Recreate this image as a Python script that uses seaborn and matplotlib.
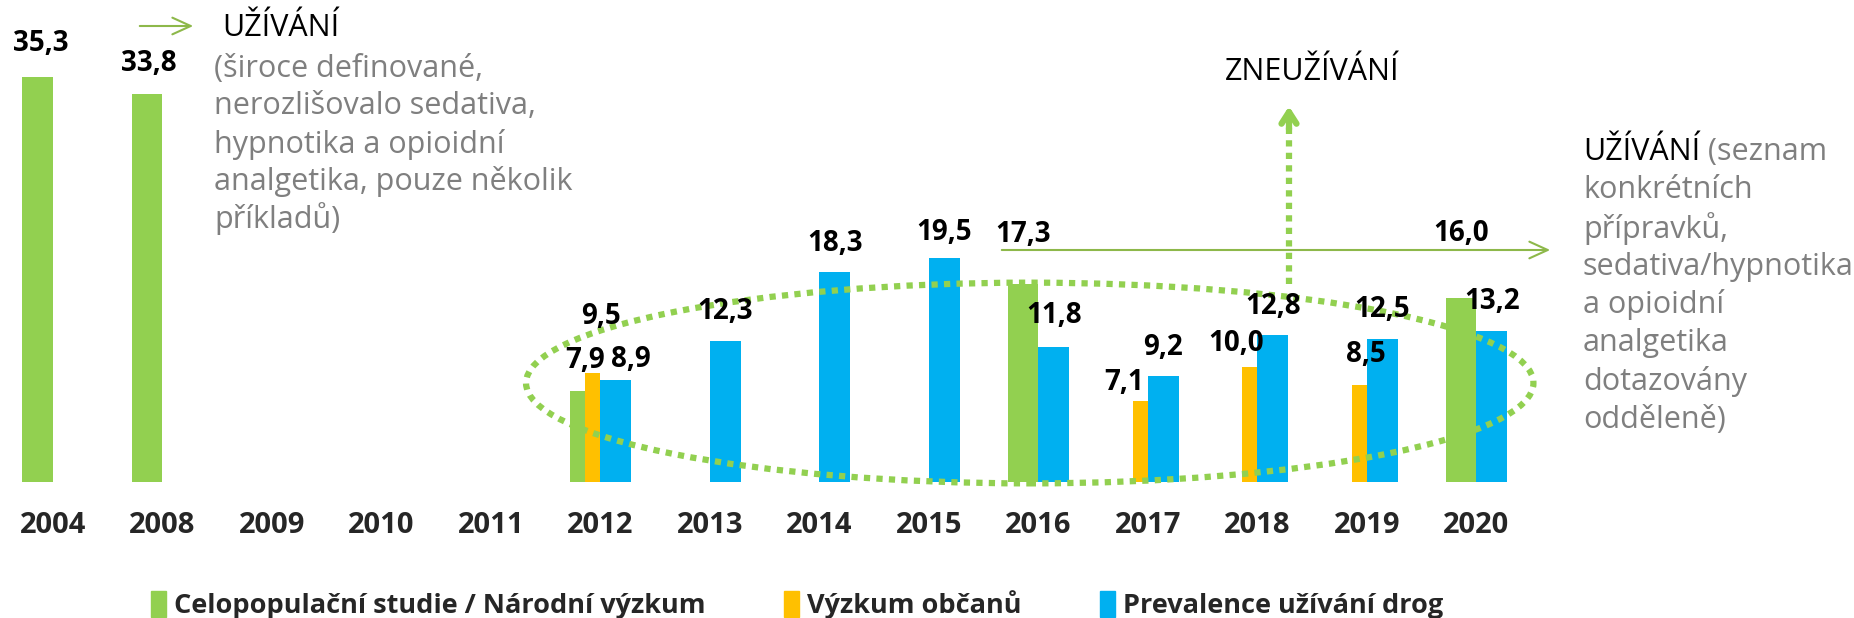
import numpy as np
import pandas as pd
import matplotlib
matplotlib.use("Agg")
import matplotlib.pyplot as plt
import seaborn as sns
from matplotlib.patches import Ellipse, Patch

# --- data ---
years = ['2004', '2008', '2009', '2010', '2011', '2012', '2013',
         '2014', '2015', '2016', '2017', '2018', '2019', '2020']
nan = np.nan
celopop = [35.3, 33.8, nan, nan, nan, 7.9, nan, nan, nan, 17.3, nan, nan, nan, 16.0]
obcane = [nan, nan, nan, nan, nan, 9.5, nan, nan, nan, nan, 7.1, 10.0, 8.5, nan]
prevalence = [nan, nan, nan, nan, nan, 8.9, 12.3, 18.3, 19.5, 11.8, 9.2, 12.8, 12.5, 13.2]
series_names = ['Celopopulační studie / Národní výzkum', 'Výzkum občanů', 'Prevalence užívání drog']

# label offsets in pixels (dx, dy) from the bar top centre
off_green = {0: (3, 34), 1: (2, 31), 5: (8, 31), 9: (0, 49), 13: (0, 65)}
off_orange = {5: (8, 57), 10: (-16, 18), 11: (-14, 24), 12: (7, 30)}
off_blue = {5: (15, 20), 8: (0, 26), 9: (0, 31)}

GREEN, ORANGE, BLUE = '#92D050', '#FFC000', '#00B0F0'
LINE_GREEN = '#8DB84A'
GREY = '#7F7F7F'

sns.set_theme(style='white')
plt.rcParams['font.family'] = ['Open Sans', 'DejaVu Sans']

W, H = 1854, 618
fig = plt.figure(figsize=(W / 100, H / 100), dpi=100)
step, unit = 109.5, 11.47          # pixels per category / per value
x0, base = 53, 482                  # pixel centre of first category / baseline
ax = fig.add_axes([0, (H - base) / H, 1, base / H])
ax.set_xlim(-x0 / step, (W - x0) / step)
ax.set_ylim(0, base / unit)

w = 0.28
x = np.arange(len(years))
df = pd.DataFrame({'year': years, 'g': celopop, 'o': obcane, 'b': prevalence})
has_o = df['o'].notna()

# green: left slot (half of it when an orange bar shares the slot)
gw = np.where(has_o, w / 2, w)
gx = x - w
bar_kw = dict(align='edge', edgecolor='none', linewidth=0)
ax.bar(gx, df['g'], width=gw, color=GREEN, **bar_kw)
ax.bar(x - w / 2, df['o'], width=w / 2, color=ORANGE, **bar_kw)
ax.bar(x, df['b'], width=w, color=BLUE, **bar_kw)


def fmt(v):
    return f'{v:.1f}'.replace('.', ',')


def labels(xc, vals, offs, default=(0, 29)):
    for i, v in enumerate(vals):
        if np.isnan(v):
            continue
        dx, dy = offs.get(i, default)
        ax.annotate(fmt(v), (xc[i], v), xytext=(dx, dy), textcoords='offset pixels',
                    ha='center', va='center', fontsize=20, fontweight='bold', color='black')


labels(gx + gw / 2, celopop, off_green)
labels(x - w / 4, obcane, off_orange)
labels(x + w / 2, prevalence, off_blue)

ax.set_xticks(x)
ax.set_xticklabels(years, fontsize=21, fontweight='bold')
ax.tick_params(axis='x', length=0, pad=21)
ax.set_yticks([])
sns.despine(ax=ax, left=True, bottom=True)

# dotted ellipse around the 2012-2020 surveys
ax.add_patch(Ellipse((8.92, 8.63), 9.2, 17.5, fill=False, edgecolor=GREEN,
                     lw=4.5, linestyle=(0, (1, 1)), clip_on=False))

# vertical dotted arrow to ZNEUŽÍVÁNÍ
vx = (1289 - x0) / step
ax.plot([vx, vx], [17.3, 31.5], color=GREEN, lw=4.5, linestyle=(0, (1, 1)))
ax.annotate('', xy=(vx, 33.0), xytext=(vx, 30.5),
            arrowprops=dict(arrowstyle='->,head_length=0.7,head_width=0.45', color=GREEN, lw=4.5))

# horizontal arrow (new questionnaire)
ax.annotate('', xy=((1553 - x0) / step, (base - 250) / unit), xytext=((999 - x0) / step, (base - 250) / unit),
            arrowprops=dict(arrowstyle='->,head_length=1.1,head_width=0.5', color=LINE_GREEN, lw=1.5))


def px(xp, yp):
    return xp / W, 1 - yp / H


# top-left arrow and text
ax.annotate('', xy=px(196, 26), xytext=px(137, 26), xycoords='figure fraction',
            arrowprops=dict(arrowstyle='->,head_length=1.1,head_width=0.5', color=LINE_GREEN, lw=1.5))
fig.text(*px(222, 28), 'UŽÍVÁNÍ', fontsize=22, color='black', va='center', ha='left')
left_lines = ['(široce definované,', 'nerozlišovalo sedativa,', 'hypnotika a opioidní',
              'analgetika, pouze několik', 'příkladů)']
for i, t in enumerate(left_lines):
    fig.text(*px(214, 69 + 37.5 * i), t, fontsize=22, color=GREY, va='center', ha='left')

fig.text(*px(1312, 72), 'ZNEUŽÍVÁNÍ', fontsize=22, color='black', va='center', ha='center')

right_lines = ['konkrétních', 'přípravků,', 'sedativa/hypnotika', 'a opioidní',
               'analgetika', 'dotazovány', 'odděleně)']
t0 = fig.text(*px(1583, 152), 'UŽÍVÁNÍ', fontsize=22, color='black', va='center', ha='left')
ax.annotate(' (seznam', xycoords=t0, xy=(1, 0.5), va='center', ha='left',
            fontsize=22, color=GREY)
for i, t in enumerate(right_lines):
    fig.text(*px(1583, 190 + 38.3 * i), t, fontsize=22, color=GREY, va='center', ha='left')

# legend
handles = [Patch(color=c, label=n) for c, n in zip([GREEN, ORANGE, BLUE], series_names)]
fig.legend(handles=handles, loc='center', bbox_to_anchor=(797 / W, 1 - 605 / H), ncol=3,
           frameon=False, handlelength=0.55, handleheight=1.1, handletextpad=0.3,
           columnspacing=2.9, prop={'size': 19.5, 'weight': 'bold'})

fig.savefig('out.png', dpi=100)
